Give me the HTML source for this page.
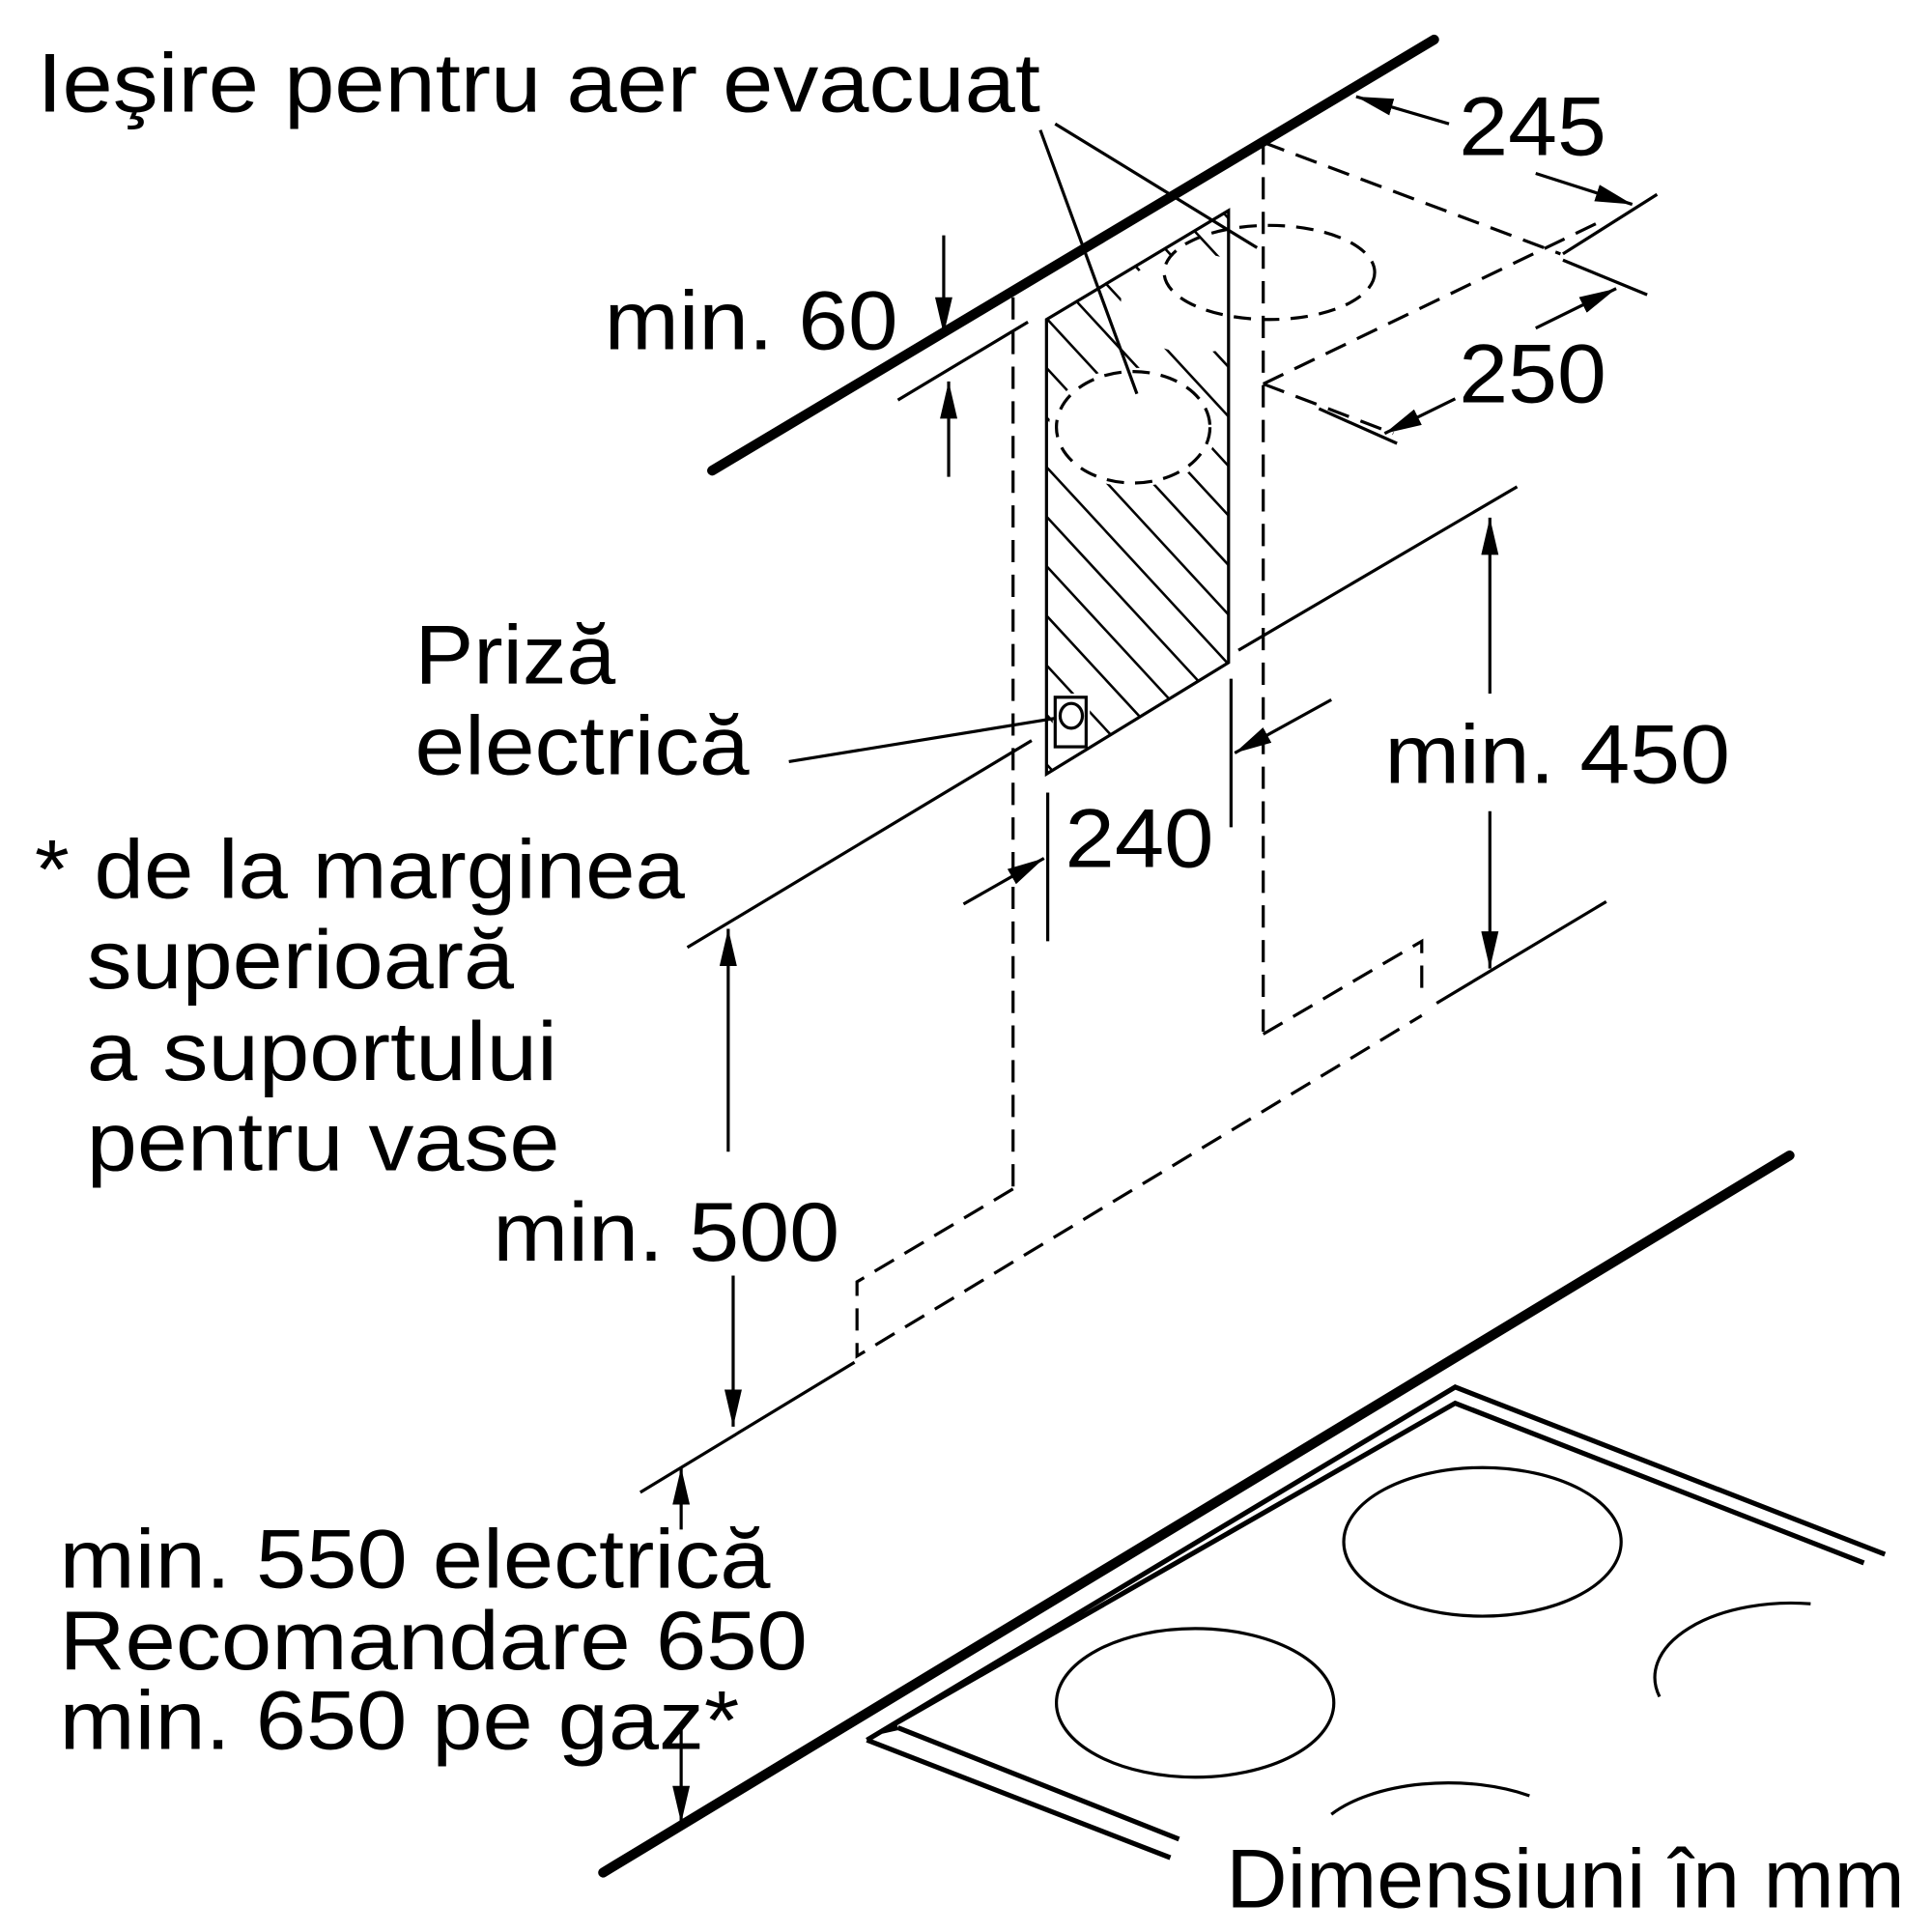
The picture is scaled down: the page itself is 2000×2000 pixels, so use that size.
<!DOCTYPE html>
<html><head><meta charset="utf-8"><style>
html,body{margin:0;padding:0;background:#fff}
svg{display:block}
text{font-family:"Liberation Sans",sans-serif;font-size:67px;fill:#000}
</style></head><body>
<svg width="2000" height="2000" viewBox="0 0 1560 1560" xmlns="http://www.w3.org/2000/svg">
<defs>
<marker id="A" viewBox="0 0 30 14" refX="30" refY="7" markerWidth="30" markerHeight="14" markerUnits="userSpaceOnUse" orient="auto"><path d="M0,0L30,7L0,14z"/></marker>
<clipPath id="pc"><polygon points="845,258 992,170 992,535 845,625"/></clipPath>
</defs>
<g stroke="#000" fill="none" stroke-width="2.5">
<g clip-path="url(#pc)">
<g stroke-width="2">
<path d="M700,100 l600,650 M700,140 l600,650 M700,180 l600,650 M700,220 l600,650 M700,260 l600,650 M700,300 l600,650 M700,340 l600,650 M700,380 l600,650 M700,420 l600,650 M700,460 l600,650 M700,500 l600,650 M700,60 l600,650 M700,20 l600,650 M700,-20 l600,650 M700,-60 l600,650 M700,-100 l600,650 M700,-140 l600,650 M700,-180 l600,650 M700,-220 l600,650 M700,-260 l600,650"/>
</g>
<ellipse cx="915" cy="345" rx="68" ry="48" fill="#fff" stroke="none"/>
<ellipse cx="965" cy="245" rx="60" ry="40" fill="#fff" stroke="none"/>
<polygon points="850,560 880,560 880,610 850,610" fill="#fff" stroke="none"/>
</g>
<polygon points="845,258 992,170 992,535 845,625"/>
<ellipse cx="915" cy="345" rx="62" ry="45" stroke-dasharray="14,9"/>
<ellipse cx="1025" cy="220" rx="85" ry="38" stroke-dasharray="14,9"/>
<rect x="852" y="563" width="25" height="40"/>
<ellipse cx="865" cy="578" rx="9" ry="10"/>
<path d="M575,380 L1158,32" stroke-width="8" stroke-linecap="round"/>
<path d="M487,1512 L1445,933" stroke-width="8" stroke-linecap="round"/>
<path d="M818,240 V960 M1020,115 V835" stroke-dasharray="18,10"/>
<path d="M818,960 L692,1035 V1095 L1148,820 M1020,835 L1148,760 V805" stroke-dasharray="18,10"/>
<path d="M1020,115 L1260,205 M1020,310 L1290,180 M1020,310 L1125,350" stroke-dasharray="18,10"/>
<path d="M840,105 L918,318 M852,100 L1015,200"/>
<path d="M555,765 L833,598 M1000,525 L1225,393 M1160,810 L1297,728 M517,1205 L690,1100 M725,323 L830,260"/>
<!-- 245 -->
<path d="M1170,100 L1095,78" marker-end="url(#A)"/>
<path d="M1240,140 L1318,165" marker-end="url(#A)"/>
<path d="M1262,205 L1338,157 M1262,210 L1330,238"/>
<!-- 250 -->
<path d="M1240,265 L1305,233" marker-end="url(#A)"/>
<path d="M1175,322 L1118,350" marker-end="url(#A)"/>
<path d="M1065,330 L1128,358"/>
<!-- min 60 -->
<path d="M762,190 V270" marker-end="url(#A)"/>
<path d="M766,385 V308" marker-end="url(#A)"/>
<!-- 240 -->
<path d="M846,640 V760 M994,548 V668"/>
<path d="M778,730 L843,693" marker-end="url(#A)"/>
<path d="M1075,565 L997,608" marker-end="url(#A)"/>
<path d="M1203,560 V418" marker-end="url(#A)"/>
<path d="M1203,655 V782" marker-end="url(#A)"/>
<path d="M588,930 V750" marker-end="url(#A)"/>
<path d="M592,1030 V1152" marker-end="url(#A)"/>
<path d="M550,1235 V1185" marker-end="url(#A)"/>
<path d="M550,1395 V1472" marker-end="url(#A)"/>
<path d="M637,615 L852,580"/>
<g stroke-width="4">
<path d="M700,1405 L1175,1120 L1522,1255 M712,1398 L1175,1133 L1505,1262"/>
<path d="M700,1405 L945,1500 M725,1395 L952,1485 M712,1398 L725,1395"/>
</g>
<ellipse cx="1197" cy="1245" rx="112" ry="60"/>
<ellipse cx="965" cy="1375" rx="112" ry="60"/>
<path d="M1462,1295 A110,60 0 0 0 1340,1370"/>
<path d="M1235,1450 A112,55 0 0 0 1075,1465"/>
</g>
<g lengthAdjust="spacingAndGlyphs">
<text x="30" y="90" textLength="810" lengthAdjust="spacingAndGlyphs">Ieşire pentru aer evacuat</text>
<text x="1178" y="125" textLength="119" lengthAdjust="spacingAndGlyphs">245</text>
<text x="1178" y="325" textLength="119" lengthAdjust="spacingAndGlyphs">250</text>
<text x="488" y="282" textLength="237" lengthAdjust="spacingAndGlyphs">min. 60</text>
<text x="335" y="552" textLength="162" lengthAdjust="spacingAndGlyphs">Priză</text>
<text x="335" y="625" textLength="270" lengthAdjust="spacingAndGlyphs">electrică</text>
<text x="28" y="725" textLength="525" lengthAdjust="spacingAndGlyphs">* de la marginea</text>
<text x="70" y="798" textLength="345" lengthAdjust="spacingAndGlyphs">superioară</text>
<text x="70" y="872" textLength="380" lengthAdjust="spacingAndGlyphs">a suportului</text>
<text x="70" y="945" textLength="382" lengthAdjust="spacingAndGlyphs">pentru vase</text>
<text x="398" y="1018" textLength="280" lengthAdjust="spacingAndGlyphs">min. 500</text>
<text x="1118" y="632" textLength="279" lengthAdjust="spacingAndGlyphs">min. 450</text>
<text x="860" y="700" textLength="120" lengthAdjust="spacingAndGlyphs">240</text>
<text x="48" y="1282" textLength="574" lengthAdjust="spacingAndGlyphs">min. 550 electrică</text>
<text x="48" y="1348" textLength="604" lengthAdjust="spacingAndGlyphs">Recomandare 650</text>
<text x="48" y="1412" textLength="549" lengthAdjust="spacingAndGlyphs">min. 650 pe gaz*</text>
<text x="990" y="1540" textLength="548" lengthAdjust="spacingAndGlyphs">Dimensiuni în mm</text>
</g>
</svg>
</body></html>
